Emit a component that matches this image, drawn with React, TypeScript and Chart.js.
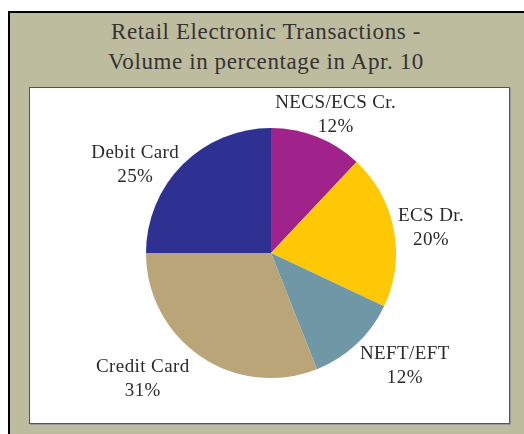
import React, { useEffect, useRef } from "react";
import { Chart, registerables } from "chart.js";

Chart.register(...registerables);

// ---- data ----
const categories = ["NECS/ECS Cr.", "ECS Dr.", "NEFT/EFT", "Credit Card", "Debit Card"];
const shares = [12, 20, 12, 31, 25];
const titleLines = ["Retail Electronic Transactions -", "Volume in percentage in Apr. 10"];

// ---- style ----
const sliceColors = ["#A0228B", "#FFC805", "#7097A5", "#B9A577", "#2E3192"];
// label placement relative to each slice: angle shift (deg) from mid-angle, distance (px) from pie centre
const labelAngleShift = [3.6, 1.8, -6.7, 11.2, -11.9];
const labelDistance = [152, 162, 175, 180, 162];

const FONT = '"Liberation Serif", "Times New Roman", serif';

const labelPlugin = {
  id: "sliceLabels",
  afterDatasetsDraw(chart: any) {
    const ctx = chart.ctx as CanvasRenderingContext2D;
    const meta = chart.getDatasetMeta(0);
    const labels = chart.data.labels as string[];
    const values = chart.data.datasets[0].data as number[];
    ctx.save();
    ctx.fillStyle = "#2a2a2a";
    ctx.font = `19px ${FONT}`;
    ctx.textAlign = "center";
    ctx.textBaseline = "alphabetic";
    try {
      (ctx as any).letterSpacing = "0.4px";
    } catch (e) {}
    meta.data.forEach((arc: any, i: number) => {
      const p = arc.getProps(["x", "y", "startAngle", "endAngle"], true);
      const mid = (p.startAngle + p.endAngle) / 2 + (labelAngleShift[i] * Math.PI) / 180;
      const px = p.x + labelDistance[i] * Math.cos(mid);
      const py = p.y + labelDistance[i] * Math.sin(mid);
      ctx.fillText(labels[i], px, py - 7);
      ctx.fillText(`${values[i]}%`, px, py + 17);
    });
    ctx.restore();
  },
};

export default function App() {
  const ref = useRef<HTMLCanvasElement | null>(null);

  useEffect(() => {
    if (!ref.current) return;
    const chart = new Chart(ref.current, {
      type: "pie",
      data: {
        labels: categories,
        datasets: [
          {
            data: shares,
            backgroundColor: sliceColors,
            borderWidth: 0,
          },
        ],
      },
      options: {
        responsive: false,
        animation: false,
        devicePixelRatio: 1,
        rotation: 0,
        layout: { padding: { left: 100, right: 97, top: 40, bottom: 45 } },
        plugins: {
          legend: { display: false },
          tooltip: { enabled: false },
          title: { display: false },
        },
      },
      plugins: [labelPlugin],
    });
    return () => chart.destroy();
  }, []);

  return (
    <div style={{ position: "fixed", left: 0, top: 0, width: 524, height: 434, background: "#fff", overflow: "hidden" }}>
      <div
        style={{
          position: "absolute",
          left: 8,
          top: 11,
          width: 530,
          height: 440,
          boxSizing: "border-box",
          borderLeft: "2px solid #000",
          borderTop: "2px solid #000",
          background: "#BEBC9E",
        }}
      />
      <div
        style={{
          position: "absolute",
          left: 10,
          top: 16.6,
          width: 512,
          textAlign: "center",
          fontFamily: FONT,
          fontSize: 23,
          lineHeight: "30px",
          letterSpacing: "0.6px",
          color: "#333",
        }}
      >
        {titleLines.map((t) => (
          <div key={t}>{t}</div>
        ))}
      </div>
      <div
        style={{
          position: "absolute",
          left: 29,
          top: 87,
          width: 481,
          height: 337,
          boxSizing: "border-box",
          border: "1px solid #555",
          boxShadow: "1px 1px 0 #9a9a9a",
          background: "#fff",
        }}
      >
        <canvas ref={ref} width={479} height={335} style={{ display: "block", width: 479, height: 335 }} />
      </div>
    </div>
  );
}
